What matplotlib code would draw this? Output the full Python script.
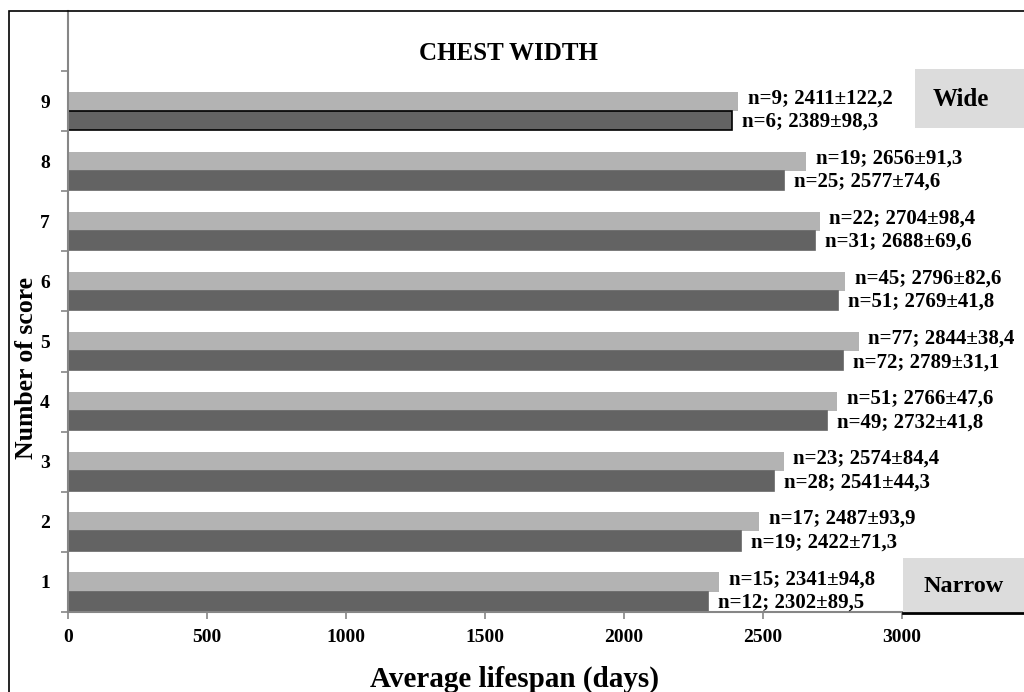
import matplotlib
matplotlib.use("Agg")
import matplotlib.pyplot as plt
from matplotlib.patches import Rectangle

plt.rcParams["font.family"] = ["Liberation Serif", "DejaVu Serif"]
plt.rcParams["font.weight"] = "bold"

# score categories (1 = narrow ... 9 = wide)
scores = [1, 2, 3, 4, 5, 6, 7, 8, 9]

# upper (light) bars
light_n = [15, 17, 23, 51, 77, 45, 22, 19, 9]
light_mean = [2341, 2487, 2574, 2766, 2844, 2796, 2704, 2656, 2411]
light_se = ["94,8", "93,9", "84,4", "47,6", "38,4", "82,6", "98,4", "91,3", "122,2"]

# lower (dark) bars
dark_n = [12, 19, 28, 49, 72, 51, 31, 25, 6]
dark_mean = [2302, 2422, 2541, 2732, 2789, 2769, 2688, 2577, 2389]
dark_se = ["89,5", "71,3", "44,3", "41,8", "31,1", "41,8", "69,6", "74,6", "98,3"]

x_ticks = [0, 500, 1000, 1500, 2000, 2500, 3000]

LIGHT = "#b3b3b3"
DARK = "#636363"
AXIS_GREY = "#868686"
BOX_GREY = "#dcdcdc"
BAR_H = 0.32

fig = plt.figure(figsize=(10.24, 6.92), dpi=100)
ax = fig.add_axes([68 / 1024, 1 - 612 / 692, 834 / 1024, 601 / 692])

ax.barh(scores, light_mean, height=BAR_H, color=LIGHT, align="center")
dark_edges = ["black" if s == 9 else DARK for s in scores]
dark_y = [s - BAR_H for s in scores]
ax.barh(dark_y, dark_mean, height=BAR_H, color=DARK, edgecolor=dark_edges,
        linewidth=1.2, align="center")

for s, n, m, se in zip(scores, light_n, light_mean, light_se):
    ax.annotate(f"n={n}; {m}\u00b1{se}", xy=(m, s), xytext=(7, 2),
                textcoords="offset points", va="center", ha="left",
                fontsize=15, fontweight="bold", annotation_clip=False)
for s, y, n, m, se in zip(scores, dark_y, dark_n, dark_mean, dark_se):
    ax.annotate(f"n={n}; {m}\u00b1{se}", xy=(m, y), xytext=(7, -1),
                textcoords="offset points", va="center", ha="left",
                fontsize=15, fontweight="bold", annotation_clip=False)

ax.set_xlim(0, 3000)
ax.set_ylim(0.5, 10.5)
ax.set_xticks(x_ticks)
ax.set_xticklabels([str(t) for t in x_ticks], fontsize=14, fontweight="bold")
ax.set_yticks(scores)
ax.set_yticklabels([str(s) for s in scores], fontsize=14, fontweight="bold")
ax.set_yticks([s + 0.5 for s in [0] + scores], minor=True)
ax.tick_params(axis="y", which="major", length=0, pad=13)
ax.tick_params(axis="y", which="minor", length=5, color=AXIS_GREY, width=1.2)
ax.tick_params(axis="x", which="major", length=5, color=AXIS_GREY, width=1.2, pad=7)

for side in ["top", "right"]:
    ax.spines[side].set_visible(False)
for side in ["left", "bottom"]:
    ax.spines[side].set_color(AXIS_GREY)
    ax.spines[side].set_linewidth(1.5)

fig.text(508 / 1024, 1 - 54 / 692, "CHEST WIDTH", ha="center", va="center",
         fontsize=18, fontweight="bold")
fig.text(514 / 1024, 1 - 679 / 692, "Average lifespan (days)", ha="center",
         va="center", fontsize=21, fontweight="bold")
fig.text(27 / 1024, 1 - 368 / 692, "Number of score", ha="center",
         va="center", rotation=90, fontsize=18.5, fontweight="bold")

# Wide / Narrow boxes on the right
fig.patches.append(Rectangle((915 / 1024, 1 - 128 / 692), 0.12, 59 / 692,
                             transform=fig.transFigure, facecolor=BOX_GREY,
                             edgecolor="none"))
fig.text(961 / 1024, 1 - 100 / 692, "Wide", ha="center", va="center",
         fontsize=18, fontweight="bold")
fig.patches.append(Rectangle((903 / 1024, 1 - 612 / 692), 0.13, 54 / 692,
                             transform=fig.transFigure, facecolor=BOX_GREY,
                             edgecolor="none"))
fig.text(964 / 1024, 1 - 586 / 692, "Narrow", ha="center", va="center",
         fontsize=17.5, fontweight="bold")
fig.lines.append(plt.Line2D([903 / 1024, 1.0], [1 - 613 / 692, 1 - 613 / 692],
                            transform=fig.transFigure, color="black", linewidth=2))

# outer frame
fig.patches.append(Rectangle((9 / 1024, -0.1), 1.1, 1.1 - 11 / 692,
                             transform=fig.transFigure, facecolor="none",
                             edgecolor="black", linewidth=1.2))

fig.savefig("out.png", dpi=100)
